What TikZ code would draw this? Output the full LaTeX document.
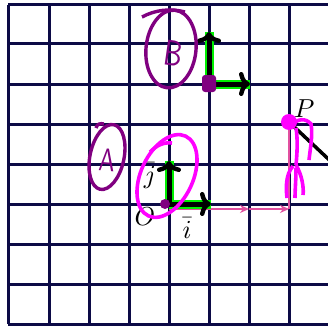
\documentclass[tikz,border=0pt]{standalone}
\usetikzlibrary{arrows.meta}
\definecolor{gridc}{RGB}{12,10,70}
\definecolor{hpurple}{RGB}{128,0,128}
\definecolor{hmag}{RGB}{255,0,255}
\definecolor{hpink}{RGB}{225,80,160}
\definecolor{hgreen}{RGB}{0,240,0}
\tikzset{
  gridline/.style={gridc, line width=3pt},
  greenhl/.style={hgreen, line width=9pt},
  blackarr/.style={black, line width=5pt, -{To[length=11pt,width=24pt,line width=4.4pt]}},
  pinkarr/.style={hpink, line width=1.6pt, -{Stealth[length=9pt,width=8pt]}},
  purpink/.style={hpurple, line width=3.4pt},
  maginl/.style={hmag, line width=3.6pt},
  lbl/.style={inner sep=0pt},
}
\newcommand{\mylbl}[1]{\scalebox{2.6}{$#1$}}
\begin{document}
\begin{tikzpicture}[x=1pt,y=-1pt]
\useasboundingbox (0,0) rectangle (328,326);
\fill[white] (0,0) rectangle (328,326);
% grid
\foreach \x in {8,49,89,129,169,209,249,289} \draw[gridline] (\x,5) -- (\x,324);
\foreach \y in {5,44,84,124,164,204,244,284,324} \draw[gridline] (8,\y) -- (330,\y);
% named points
\coordinate (O) at (169,204);
\coordinate (Oi) at (211,204);
\coordinate (Oj) at (169,161);
\coordinate (B) at (209,84);
\coordinate (Bi) at (250,84);
\coordinate (Bj) at (209,32);
\coordinate (P) at (289,122);
\coordinate (Pe) at (340,170);
\coordinate (Q0) at (169,209);
\coordinate (Q1) at (249,209);
\coordinate (Q2) at (289,209);
\coordinate (Pb) at (289,130);
% pink path
\draw[pinkarr] (Q0) -- (Q1);
\draw[pinkarr] (Q1) -- (Q2);
\draw[hpink, line width=1.6pt] (Q2) -- (Pb);
% line from P
\draw[black, line width=3.5pt] (P) -- (Pe);
% green highlights
\draw[greenhl] (O) -- (Oi);
\draw[greenhl] (O) -- (Oj);
\draw[greenhl] (B) -- (Bi);
\draw[greenhl] (B) -- (Bj);
% black arrows
\draw[blackarr] (O) -- (Oi);
\draw[blackarr] (O) -- (Oj);
\draw[blackarr] (B) -- (Bi);
\draw[blackarr] (B) -- (Bj);
% dots
\fill[hpurple, rounded corners=3pt] (202,75) rectangle (216,92);
\fill[hpurple] (165,204) circle (5);
\fill[hmag] (P) circle (8);
% labels
\node[lbl, anchor=south west] (Plbl) at (294,118) {\mylbl{P}};
\node[lbl] (Olbl) at (145,217) {\mylbl{O}};
\node[lbl] (jlbl) at (150,176) {\mylbl{\bar{j}}};
\node[lbl] (ilbl) at (187,228) {\mylbl{\bar{i}}};
% handwritten B
\draw[purpink, rotate around={-6:(171,49)}] (171,49) ellipse [x radius=25, y radius=39];
\draw[purpink] (142,17) .. controls (155,10) and (170,8) .. (185,12);
\node[hpurple, rotate=-8] (Btext) at (173,53) {\scalebox{2.8}[3.6]{\sffamily B}};
% handwritten A
\draw[purpink, rotate around={-12:(107,157)}] (107,157) ellipse [x radius=17, y radius=33];
\draw[purpink] (96,128) .. controls (97,124) and (100,123) .. (104,124);
\node[hpurple, rotate=-5] (Atext) at (107,160) {\scalebox{2.4}[3.2]{\sffamily A}};
% magenta ellipse around origin frame
\draw[maginl, rotate around={-25:(167,176)}] (167,176) ellipse [x radius=26, y radius=44];
\draw[maginl] (150,152) .. controls (157,145) and (164,142) .. (172,143);
% stick figure near P
\draw[maginl] (291,126) .. controls (297,118) and (306,118) .. (311,124) .. controls (313,135) and (310,150) .. (309,160);
\draw[maginl] (296,128) .. controls (298,140) and (297,155) .. (296,165);
\draw[maginl] (293,166) .. controls (285,175) and (286,190) .. (287,198);
\draw[maginl] (296,165) .. controls (302,175) and (304,188) .. (303,195);
\draw[maginl] (296,168) .. controls (296,180) and (295,190) .. (295,198);
\end{tikzpicture}
\end{document}
